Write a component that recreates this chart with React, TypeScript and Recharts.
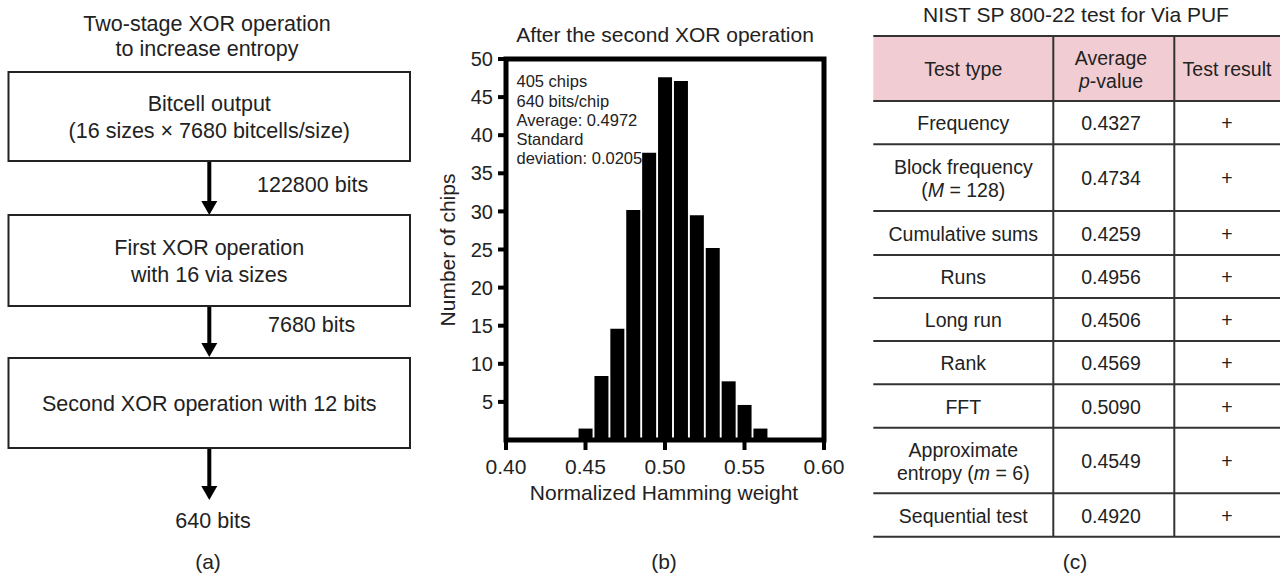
import React from 'react';
import { BarChart, Bar, XAxis, YAxis, ReferenceArea } from 'recharts';

// ---------- data: panel (b) histogram ----------
const binCenters = [0.45, 0.46, 0.47, 0.48, 0.49, 0.5, 0.51, 0.52, 0.53, 0.54, 0.55, 0.56];
const chipCounts = [1.5, 8.4, 14.6, 30.2, 37.7, 47.6, 47.1, 29.5, 25.2, 7.7, 4.6, 1.5];
const xTicks = [0.4, 0.45, 0.5, 0.55, 0.6];
const yTicks = [5, 10, 15, 20, 25, 30, 35, 40, 45, 50];
const statsLines = ['405 chips', '640 bits/chip', 'Average: 0.4972', 'Standard', 'deviation: 0.0205'];

// ---------- data: panel (a) flow ----------
const flowTitle = ['Two-stage XOR operation', 'to increase entropy'];
const flowBoxes = [
  ['Bitcell output', '(16 sizes \u00d7 7680 bitcells/size)'],
  ['First XOR operation', 'with 16 via sizes'],
  ['Second XOR operation with 12 bits'],
];
const flowBitCounts = ['122800 bits', '7680 bits', '640 bits'];

// ---------- data: panel (c) table ----------
const tableTitle = 'NIST SP 800-22 test for Via PUF';
const tableHeaders = [['Test type'], ['Average', '*p*-value'], ['Test result']];
const testTypes = [
  ['Frequency'],
  ['Block frequency', '(*M* = 128)'],
  ['Cumulative sums'],
  ['Runs'],
  ['Long run'],
  ['Rank'],
  ['FFT'],
  ['Approximate', 'entropy (*m* = 6)'],
  ['Sequential test'],
];
const avgPValues = ['0.4327', '0.4734', '0.4259', '0.4956', '0.4506', '0.4569', '0.5090', '0.4549', '0.4920'];
const testResults = ['+', '+', '+', '+', '+', '+', '+', '+', '+'];

const histData = binCenters.map((x, i) => ({ x, count: chipCounts[i] }));

const FONT = '"Liberation Sans", Arial, Helvetica, sans-serif';
const INK = '#222';

// layout constants
const boxTops = [72, 215, 358];
const boxBottoms = [161, 306, 448];
const arrowTips = [215, 357, 500];
const flowCx = 209.3;
const boxLeft = 8.5;
const boxRight = 410;
const bitLabelPos = [
  { x: 257, y: 184, anchor: 'start' },
  { x: 268, y: 324, anchor: 'start' },
  { x: 213, y: 520, anchor: 'middle' },
];

const rowBounds = [36, 101, 144.3, 211, 255, 298, 341, 384.3, 427.7, 493.3, 536.7];
const tableLeft = 873.3;
const tableRight = 1280;
const colDiv = [1053.3, 1174.3];
const colCx = [963.3, 1111, 1227];

function RichLine({ text, x, y, size, anchor = 'middle' }: { text: string; x: number; y: number; size: number; anchor?: string }) {
  const parts = text.split('*');
  return (
    <text x={x} y={y} dy="0.35em" fontSize={size} fill={INK} textAnchor={anchor as any} fontFamily={FONT}>
      {parts.map((p, i) => (
        <tspan key={i} fontStyle={i % 2 === 1 ? 'italic' : 'normal'}>
          {p}
        </tspan>
      ))}
    </text>
  );
}

function Cell({ lines, cx, cy, size }: { lines: string[]; cx: number; cy: number; size: number }) {
  const lh = 23.5;
  const start = cy - ((lines.length - 1) * lh) / 2;
  return (
    <g>
      {lines.map((l, i) => (
        <RichLine key={i} text={l} x={cx} y={start + i * lh} size={size} />
      ))}
    </g>
  );
}

function Overlay() {
  return (
    <svg width={1285} height={577} style={{ position: 'absolute', left: 0, top: 0, pointerEvents: 'none' }}>
      {/* ---------- panel (a) ---------- */}
      {flowTitle.map((t, i) => (
        <RichLine key={i} text={t} x={207} y={23 + i * 25} size={21.5} />
      ))}
      {flowBoxes.map((lines, i) => {
        const top = boxTops[i];
        const bot = boxBottoms[i];
        const cy = (top + bot) / 2;
        const lh = 26.5;
        const start = cy - ((lines.length - 1) * lh) / 2 + 0.5;
        return (
          <g key={i}>
            <rect x={boxLeft} y={top} width={boxRight - boxLeft} height={bot - top} fill="none" stroke={INK} strokeWidth={2} />
            {lines.map((l, j) => (
              <RichLine key={j} text={l} x={flowCx} y={start + j * lh} size={21.5} />
            ))}
            <line x1={flowCx} y1={bot + 1} x2={flowCx} y2={arrowTips[i] - 12} stroke="#000" strokeWidth={4} />
            <polygon
              points={`${flowCx - 8},${arrowTips[i] - 14} ${flowCx + 8},${arrowTips[i] - 14} ${flowCx},${arrowTips[i]}`}
              fill="#000"
            />
            <RichLine text={flowBitCounts[i]} x={bitLabelPos[i].x} y={bitLabelPos[i].y} size={21.5} anchor={bitLabelPos[i].anchor} />
          </g>
        );
      })}
      <RichLine text="(a)" x={208} y={562} size={21} />

      {/* ---------- panel (b) texts ---------- */}
      <RichLine text="After the second XOR operation" x={665} y={35} size={21} />
      {statsLines.map((s, i) => (
        <RichLine key={i} text={s} x={516.5} y={81.7 + i * 19.2} size={16.5} anchor="start" />
      ))}
      <RichLine text="Normalized Hamming weight" x={664} y={493} size={21} />
      <g transform="translate(448,250) rotate(-90)">
        <RichLine text="Number of chips" x={0} y={0} size={21} />
      </g>
      <RichLine text="(b)" x={664} y={562} size={21} />

      {/* ---------- panel (c) ---------- */}
      <RichLine text={tableTitle} x={1076} y={15} size={21} />
      <rect x={tableLeft} y={rowBounds[0]} width={tableRight - tableLeft} height={rowBounds[1] - rowBounds[0]} fill="#f1cdd3" />
      {rowBounds.map((y, i) => (
        <line key={i} x1={tableLeft} x2={tableRight} y1={y} y2={y} stroke="#333" strokeWidth={2} />
      ))}
      {colDiv.map((x, i) => (
        <line key={i} x1={x} x2={x} y1={rowBounds[0]} y2={rowBounds[rowBounds.length - 1]} stroke="#333" strokeWidth={2} />
      ))}
      {tableHeaders.map((h, c) => (
        <Cell key={c} lines={h} cx={colCx[c]} cy={(rowBounds[0] + rowBounds[1]) / 2 + 1} size={19.5} />
      ))}
      {testTypes.map((t, r) => {
        const cy = (rowBounds[r + 1] + rowBounds[r + 2]) / 2 + 1;
        return (
          <g key={r}>
            <Cell lines={t} cx={colCx[0]} cy={cy} size={19.5} />
            <Cell lines={[avgPValues[r]]} cx={colCx[1]} cy={cy} size={19.5} />
            <Cell lines={[testResults[r]]} cx={colCx[2]} cy={cy} size={19.5} />
          </g>
        );
      })}
      <RichLine text="(c)" x={1075} y={562} size={21} />
    </svg>
  );
}

export default function App() {
  return (
    <div
      style={{
        position: 'absolute',
        left: 0,
        top: 0,
        width: 1285,
        height: 577,
        background: '#fff',
        fontFamily: FONT,
        overflow: 'hidden',
      }}
    >
      <div style={{ position: 'absolute', left: 420, top: 0 }}>
        <BarChart width={430} height={520} data={histData} margin={{ top: 59, right: 26, bottom: 40, left: 0 }}>
          <XAxis
            dataKey="x"
            type="number"
            domain={[0.4, 0.6]}
            ticks={xTicks}
            interval={0}
            allowDataOverflow
            tickFormatter={(v: number) => v.toFixed(2)}
            axisLine={false}
            tickLine={{ stroke: '#000', strokeWidth: 4 }}
            tickSize={10}
            tickMargin={9}
            height={40}
            tick={{ fill: INK, fontSize: 21 }}
          />
          <YAxis
            type="number"
            domain={[0, 50]}
            ticks={yTicks}
            interval={0}
            allowDataOverflow
            axisLine={false}
            tickLine={{ stroke: '#000', strokeWidth: 4 }}
            tickSize={8}
            tickMargin={5}
            width={86}
            tick={{ fill: INK, fontSize: 20 }}
          />
          <Bar dataKey="count" fill="#000" barSize={14} isAnimationActive={false} />
          <ReferenceArea x1={0.4} x2={0.6} y1={0} y2={50} fill="none" fillOpacity={0} stroke="#000" strokeWidth={5} ifOverflow="visible" />
        </BarChart>
      </div>
      <Overlay />
    </div>
  );
}
